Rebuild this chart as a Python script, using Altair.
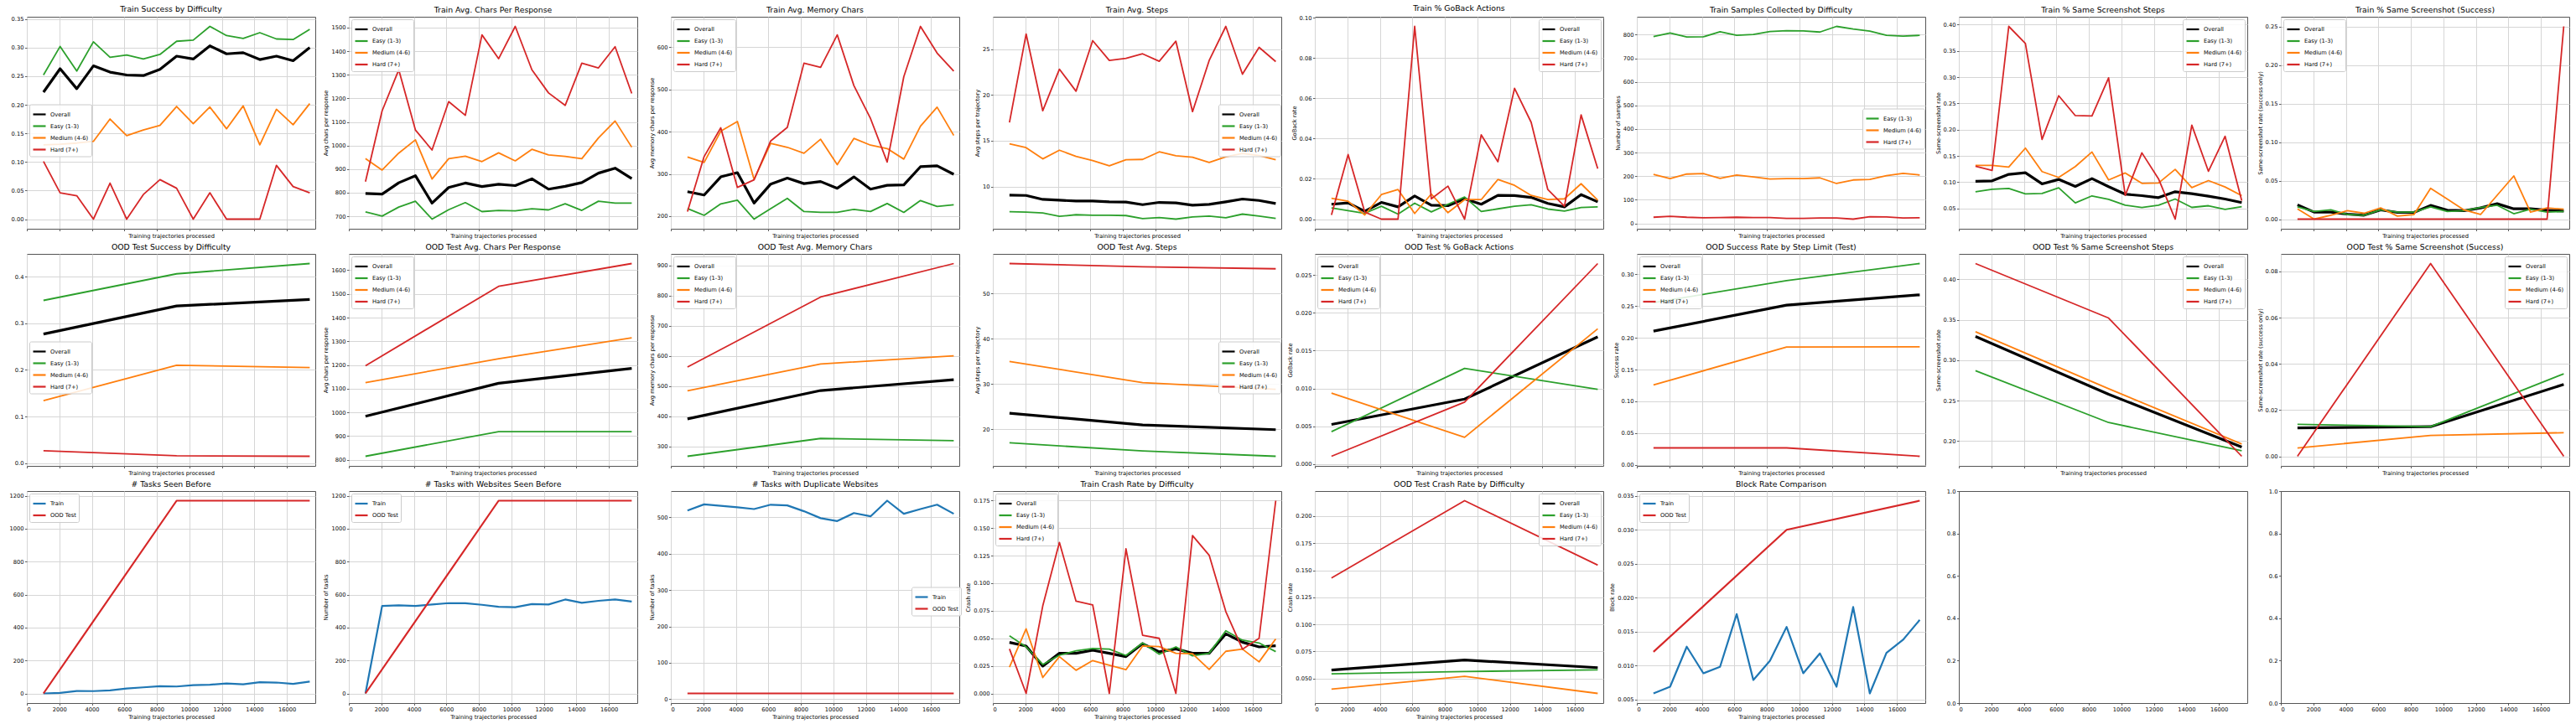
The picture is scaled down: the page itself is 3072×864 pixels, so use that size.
import altair as alt
import pandas as pd

# ---------------- data ----------------
X_TRAIN = [1024, 2048, 3072, 4096, 5120, 6144, 7168, 8192, 9216, 10240, 11264, 12288, 13312, 14336, 15360, 16384, 17408]
X_OOD = [1024, 9216, 17408]
X_TICKS = [0, 2000, 4000, 6000, 8000, 10000, 12000, 14000, 16000]
X_DOMAIN = [0, 17750]

DIFF = ["Overall", "Easy (1-3)", "Medium (4-6)", "Hard (7+)"]
DIFF_COLORS = ["#000000", "#2ca02c", "#ff7f0e", "#d62728"]
DIFF_WIDTHS = [3.2, 1.8, 1.8, 1.8]
SPLIT = ["Train", "OOD Test"]
SPLIT_COLORS = ["#1f77b4", "#d62728"]
SPLIT_WIDTHS = [2.2, 2.2]

train_success_overall = [0.222, 0.263, 0.228, 0.268, 0.257, 0.252, 0.251, 0.262, 0.285, 0.280, 0.303, 0.289, 0.291, 0.279, 0.285, 0.277, 0.300]
train_success_easy = [0.252, 0.302, 0.259, 0.310, 0.283, 0.287, 0.280, 0.288, 0.311, 0.313, 0.337, 0.321, 0.316, 0.326, 0.315, 0.314, 0.332]
train_success_medium = [0.130, 0.131, 0.133, 0.136, 0.175, 0.146, 0.156, 0.164, 0.197, 0.167, 0.196, 0.158, 0.198, 0.130, 0.192, 0.165, 0.202]
train_success_hard = [0.101, 0.046, 0.041, 0.0, 0.063, 0.0, 0.043, 0.069, 0.054, 0.0, 0.046, 0.0, 0.0, 0.0, 0.094, 0.057, 0.046]

train_chars_overall = [797, 794, 842, 872, 756, 822, 841, 826, 836, 830, 859, 815, 827, 843, 883, 904, 860]
train_chars_easy = [719, 701, 739, 764, 688, 728, 758, 720, 725, 723, 732, 727, 753, 725, 764, 756, 756]
train_chars_medium = [945, 896, 968, 1024, 858, 944, 955, 932, 969, 935, 984, 960, 954, 944, 1032, 1104, 993]
train_chars_hard = [847, 1147, 1321, 1066, 981, 1186, 1128, 1469, 1368, 1505, 1321, 1223, 1170, 1349, 1329, 1419, 1221]

train_mem_overall = [258, 250, 293, 303, 231, 276, 290, 277, 282, 266, 293, 264, 273, 274, 317, 319, 299]
train_mem_easy = [218, 202, 229, 238, 193, 218, 242, 211, 209, 209, 216, 211, 230, 209, 237, 223, 227]
train_mem_medium = [340, 327, 401, 424, 287, 372, 363, 349, 382, 322, 384, 368, 360, 335, 413, 458, 391]
train_mem_hard = [211, 341, 409, 268, 286, 378, 410, 562, 552, 629, 509, 431, 328, 530, 649, 586, 543]

train_steps_overall = [9.05, 9.02, 8.59, 8.50, 8.41, 8.41, 8.32, 8.29, 8.01, 8.26, 8.20, 7.95, 8.04, 8.32, 8.63, 8.47, 8.14]
train_steps_easy = [7.25, 7.19, 7.10, 6.73, 6.91, 6.85, 6.85, 6.82, 6.49, 6.61, 6.43, 6.67, 6.76, 6.58, 6.98, 6.76, 6.52]
train_steps_medium = [14.67, 14.25, 13.02, 13.97, 13.30, 12.84, 12.26, 12.93, 12.96, 13.79, 13.36, 13.21, 12.63, 13.24, 13.61, 13.39, 12.93]
train_steps_hard = [17.0, 26.68, 18.28, 22.83, 20.42, 25.95, 23.78, 24.02, 24.51, 23.69, 25.89, 18.19, 23.78, 27.51, 22.28, 25.22, 23.66]

train_goback_overall = [0.0074, 0.0081, 0.0039, 0.0083, 0.0061, 0.0115, 0.0069, 0.0067, 0.0101, 0.0074, 0.0118, 0.0117, 0.0108, 0.0078, 0.0061, 0.0122, 0.0086]
train_goback_easy = [0.0056, 0.0042, 0.0029, 0.0064, 0.0025, 0.0079, 0.0036, 0.0074, 0.0110, 0.0038, 0.0051, 0.0064, 0.0071, 0.0050, 0.0040, 0.0058, 0.0061]
train_goback_medium = [0.0104, 0.0089, 0.0021, 0.0122, 0.0147, 0.0028, 0.0125, 0.0032, 0.0097, 0.0097, 0.0197, 0.0168, 0.0118, 0.0097, 0.0101, 0.0176, 0.0094]
train_goback_hard = [0.0021, 0.0321, 0.0035, 0.0, 0.0, 0.0958, 0.0101, 0.0164, 0.0, 0.0419, 0.0285, 0.0650, 0.0481, 0.0147, 0.0064, 0.0518, 0.0251]

train_samples_easy = [792, 807, 790, 791, 812, 797, 801, 813, 817, 816, 811, 835, 824, 815, 797, 794, 797]
train_samples_medium = [208, 190, 209, 211, 191, 205, 197, 188, 190, 190, 193, 169, 184, 186, 202, 212, 205]
train_samples_hard = [26, 30, 26, 24, 25, 26, 25, 25, 21, 21, 23, 23, 18, 28, 27, 23, 24]

train_same_overall = [0.1017, 0.1027, 0.1150, 0.1182, 0.0969, 0.1054, 0.0921, 0.1070, 0.0915, 0.0772, 0.0745, 0.0708, 0.0819, 0.0782, 0.0734, 0.0681, 0.0612]
train_same_easy = [0.0819, 0.0867, 0.0883, 0.0777, 0.0788, 0.0894, 0.0606, 0.0740, 0.0676, 0.0564, 0.0521, 0.0564, 0.0681, 0.0521, 0.0553, 0.0484, 0.0537]
train_same_medium = [0.1320, 0.1320, 0.1288, 0.1650, 0.1203, 0.1091, 0.1299, 0.1576, 0.1043, 0.1176, 0.0979, 0.0985, 0.1245, 0.0899, 0.1032, 0.0910, 0.0745]
train_same_hard = [0.1304, 0.1224, 0.3966, 0.3642, 0.1815, 0.2646, 0.2268, 0.2263, 0.2987, 0.0750, 0.1560, 0.1064, 0.0298, 0.2087, 0.1208, 0.1874, 0.0649]

train_samesucc_overall = [0.0185, 0.0091, 0.0091, 0.0065, 0.0051, 0.0120, 0.0087, 0.0087, 0.0178, 0.0116, 0.0109, 0.0145, 0.0200, 0.0134, 0.0134, 0.0116, 0.0105]
train_samesucc_easy = [0.016, 0.010, 0.012, 0.006, 0.005, 0.012, 0.009, 0.009, 0.016, 0.010, 0.011, 0.015, 0.018, 0.007, 0.013, 0.009, 0.010]
train_samesucc_medium = [0.0134, 0.0, 0.005, 0.011, 0.0076, 0.0145, 0.004, 0.006, 0.040, 0.026, 0.012, 0.006, 0.031, 0.056, 0.009, 0.0145, 0.013]
train_samesucc_hard = [0.0, 0.0, 0.0, 0.0, 0.0, 0.0, 0.0, 0.0, 0.0, 0.0, 0.0, 0.0, 0.0, 0.0, 0.0, 0.0, 0.25]

ood_success = {"Overall": [0.277, 0.337, 0.351], "Easy (1-3)": [0.349, 0.406, 0.428],
               "Medium (4-6)": [0.134, 0.210, 0.205], "Hard (7+)": [0.027, 0.016, 0.015]}
ood_chars = {"Overall": [984, 1123, 1186], "Easy (1-3)": [815, 919, 919],
             "Medium (4-6)": [1126, 1226, 1315], "Hard (7+)": [1197, 1532, 1628]}
ood_mem = {"Overall": [391, 485, 521], "Easy (1-3)": [267, 326, 319],
           "Medium (4-6)": [484, 573, 600], "Hard (7+)": [563, 795, 906]}
ood_steps = {"Overall": [23.52, 20.93, 19.88], "Easy (1-3)": [16.97, 15.18, 14.0],
             "Medium (4-6)": [34.97, 30.27, 28.78], "Hard (7+)": [56.6, 55.87, 55.44]}
ood_goback = {"Overall": [0.00524, 0.00859, 0.01681], "Easy (1-3)": [0.00428, 0.01265, 0.00988],
              "Medium (4-6)": [0.00937, 0.00354, 0.01788], "Hard (7+)": [0.00103, 0.00819, 0.02651]}
ood_steplimit = {"Overall": [0.2105, 0.2513, 0.2676], "Easy (1-3)": [0.2553, 0.2900, 0.3168],
                 "Medium (4-6)": [0.1257, 0.1854, 0.1859], "Hard (7+)": [0.0268, 0.0268, 0.0136]}
ood_same = {"Overall": [0.3294, 0.2578, 0.1924], "Easy (1-3)": [0.2869, 0.2228, 0.1879],
            "Medium (4-6)": [0.3353, 0.2647, 0.1962], "Hard (7+)": [0.4197, 0.3522, 0.1810]}
ood_samesucc = {"Overall": [0.0123, 0.0128, 0.0311], "Easy (1-3)": [0.0138, 0.0128, 0.0357],
                "Medium (4-6)": [0.0036, 0.0090, 0.0102], "Hard (7+)": [0.0, 0.0834, 0.0]}

tasks_seen_train = [0, 3, 15, 14, 18, 30, 37, 44, 42, 50, 53, 60, 55, 68, 66, 58, 72]
tasks_seen_ood = [0, 1170, 1170]
web_seen_train = [0, 531, 535, 531, 540, 548, 547, 538, 526, 523, 542, 540, 570, 550, 562, 570, 558]
web_seen_ood = [0, 1170, 1170]
dup_web_train = [518, 535, 531, 527, 522, 534, 532, 516, 497, 489, 511, 502, 545, 509, 522, 534, 509]
dup_web_ood = [16, 16, 16]

crash_train_overall = [0.0463, 0.0430, 0.0248, 0.0364, 0.0364, 0.0392, 0.0364, 0.0334, 0.0452, 0.0377, 0.0404, 0.0364, 0.0364, 0.0541, 0.0465, 0.0422, 0.0432]
crash_train_easy = [0.0523, 0.0422, 0.0263, 0.0346, 0.0387, 0.0407, 0.0402, 0.0344, 0.0458, 0.0356, 0.0422, 0.0341, 0.0364, 0.0569, 0.0483, 0.0458, 0.0379]
crash_train_medium = [0.0238, 0.0586, 0.0144, 0.0334, 0.0210, 0.0298, 0.0255, 0.0215, 0.0430, 0.0425, 0.0364, 0.0361, 0.0217, 0.0382, 0.0402, 0.0286, 0.0495]
crash_train_hard = [0.0404, 0.0, 0.0794, 0.1370, 0.0837, 0.0804, 0.0, 0.1312, 0.0528, 0.0500, 0.0, 0.1433, 0.1254, 0.0743, 0.0402, 0.0500, 0.1749]
crash_ood = {"Overall": [0.0578, 0.0671, 0.0601], "Easy (1-3)": [0.0544, 0.0565, 0.0580],
             "Medium (4-6)": [0.0402, 0.0521, 0.0363], "Hard (7+)": [0.1428, 0.2142, 0.1547]}

block_train = [0.00587, 0.00686, 0.01276, 0.00884, 0.00979, 0.01758, 0.00785, 0.01069, 0.01568, 0.00884, 0.01177, 0.00686, 0.01861, 0.00587, 0.01185, 0.01379, 0.01672]
block_ood = [0.0120, 0.0300, 0.0343]

# ---------------- layout / style ----------------
W, H = 344, 253
FONT = "DejaVu Sans"
XTITLE = "Training trajectories processed"


def rows_from(series):
    """series: list of (name, xs, ys, width)"""
    out = []
    for name, xs, ys, w in series:
        for x, y in zip(xs, ys):
            out.append({"x": x, "y": y, "s": name, "w": w})
    return pd.DataFrame(out)


def diff_series(xs, vals, names=DIFF):
    return [(n, xs, v, DIFF_WIDTHS[DIFF.index(n)]) for n, v in zip(names, vals)]


def make_legend(pos, n, lw):
    h = n * 10 + 4
    common = dict(title=None)
    if pos == "ul":
        return alt.Legend(orient="top-left", offset=3, **common)
    if pos == "ur":
        return alt.Legend(orient="top-right", offset=3, **common)
    if pos == "cl":
        return alt.Legend(orient="none", legendX=3, legendY=(H - h) / 2, **common)
    return alt.Legend(orient="none", legendX=W - 3 - lw, legendY=(H - h) / 2, **common)


def panel(title, df, names, colors, yticks, yfmt, ytitle, lpos, bottom, lw=72):
    lo, hi = float(df["y"].min()), float(df["y"].max())
    m = (hi - lo) * 0.05
    xaxis = alt.Axis(values=X_TICKS, format="d", labels=bottom, title=XTITLE, grid=True)
    if ytitle:
        yaxis = alt.Axis(values=yticks, format=yfmt, title=ytitle, grid=True)
    else:
        yaxis = alt.Axis(values=yticks, format=yfmt, title=None, grid=True)
    return alt.Chart(df).mark_line(strokeJoin="round").encode(
        x=alt.X("x:Q", scale=alt.Scale(domain=X_DOMAIN, nice=False, zero=False), axis=xaxis),
        y=alt.Y("y:Q", scale=alt.Scale(domain=[lo - m, hi + m], nice=False, zero=False), axis=yaxis),
        color=alt.Color("s:N", scale=alt.Scale(domain=names, range=colors),
                        legend=make_legend(lpos, len(names), lw)),
        strokeWidth=alt.StrokeWidth("w:Q", scale=None, legend=None),
    ).properties(title=title, width=W, height=H)


def empty_panel():
    df = pd.DataFrame({"x": [0], "y": [0]})
    return alt.Chart(df).mark_point(opacity=0).encode(
        x=alt.X("x:Q", scale=alt.Scale(domain=X_DOMAIN, nice=False, zero=False),
                axis=alt.Axis(values=X_TICKS, format="d", grid=False, title=None)),
        y=alt.Y("y:Q", scale=alt.Scale(domain=[0, 1], nice=False, zero=False),
                axis=alt.Axis(values=[0.0, 0.2, 0.4, 0.6, 0.8, 1.0], format=".1f", grid=False, title=None)),
    ).properties(width=W, height=H)


panels = []
# Row 1 (train)
panels.append(panel("Train Success by Difficulty",
                    rows_from(diff_series(X_TRAIN, [train_success_overall, train_success_easy, train_success_medium, train_success_hard])),
                    DIFF, DIFF_COLORS, [0.0, 0.05, 0.10, 0.15, 0.20, 0.25, 0.30, 0.35], ".2f", None, "cl", False))
panels.append(panel("Train Avg. Chars Per Response",
                    rows_from(diff_series(X_TRAIN, [train_chars_overall, train_chars_easy, train_chars_medium, train_chars_hard])),
                    DIFF, DIFF_COLORS, [700, 800, 900, 1000, 1100, 1200, 1300, 1400, 1500], "d", "Avg chars per response", "ul", False))
panels.append(panel("Train Avg. Memory Chars",
                    rows_from(diff_series(X_TRAIN, [train_mem_overall, train_mem_easy, train_mem_medium, train_mem_hard])),
                    DIFF, DIFF_COLORS, [200, 300, 400, 500, 600], "d", "Avg memory chars per response", "ul", False))
panels.append(panel("Train Avg. Steps",
                    rows_from(diff_series(X_TRAIN, [train_steps_overall, train_steps_easy, train_steps_medium, train_steps_hard])),
                    DIFF, DIFF_COLORS, [10, 15, 20, 25], "d", "Avg steps per trajectory", "cr", False))
panels.append(panel("Train % GoBack Actions",
                    rows_from(diff_series(X_TRAIN, [train_goback_overall, train_goback_easy, train_goback_medium, train_goback_hard])),
                    DIFF, DIFF_COLORS, [0.0, 0.02, 0.04, 0.06, 0.08, 0.10], ".2f", "GoBack rate", "ur", False))
panels.append(panel("Train Samples Collected by Difficulty",
                    rows_from(diff_series(X_TRAIN, [train_samples_easy, train_samples_medium, train_samples_hard], DIFF[1:])),
                    DIFF[1:], DIFF_COLORS[1:], [0, 100, 200, 300, 400, 500, 600, 700, 800], "d", "Number of samples", "cr", False))
panels.append(panel("Train % Same Screenshot Steps",
                    rows_from(diff_series(X_TRAIN, [train_same_overall, train_same_easy, train_same_medium, train_same_hard])),
                    DIFF, DIFF_COLORS, [0.05, 0.10, 0.15, 0.20, 0.25, 0.30, 0.35, 0.40], ".2f", "Same-screenshot rate", "ur", False))
panels.append(panel("Train % Same Screenshot (Success)",
                    rows_from(diff_series(X_TRAIN, [train_samesucc_overall, train_samesucc_easy, train_samesucc_medium, train_samesucc_hard])),
                    DIFF, DIFF_COLORS, [0.0, 0.05, 0.10, 0.15, 0.20, 0.25], ".2f", "Same-screenshot rate (success only)", "ul", False))

# Row 2 (OOD test)
def ood_df(d):
    return rows_from(diff_series(X_OOD, [d[n] for n in DIFF]))

panels.append(panel("OOD Test Success by Difficulty", ood_df(ood_success), DIFF, DIFF_COLORS,
                    [0.0, 0.1, 0.2, 0.3, 0.4], ".1f", None, "cl", False))
panels.append(panel("OOD Test Avg. Chars Per Response", ood_df(ood_chars), DIFF, DIFF_COLORS,
                    [800, 900, 1000, 1100, 1200, 1300, 1400, 1500, 1600], "d", "Avg chars per response", "ul", False))
panels.append(panel("OOD Test Avg. Memory Chars", ood_df(ood_mem), DIFF, DIFF_COLORS,
                    [300, 400, 500, 600, 700, 800, 900], "d", "Avg memory chars per response", "ul", False))
panels.append(panel("OOD Test Avg. Steps", ood_df(ood_steps), DIFF, DIFF_COLORS,
                    [20, 30, 40, 50], "d", "Avg steps per trajectory", "cr", False))
panels.append(panel("OOD Test % GoBack Actions", ood_df(ood_goback), DIFF, DIFF_COLORS,
                    [0.0, 0.005, 0.010, 0.015, 0.020, 0.025], ".3f", "GoBack rate", "ul", False))
panels.append(panel("OOD Success Rate by Step Limit (Test)", ood_df(ood_steplimit), DIFF, DIFF_COLORS,
                    [0.0, 0.05, 0.10, 0.15, 0.20, 0.25, 0.30], ".2f", "Success rate", "ul", False))
panels.append(panel("OOD Test % Same Screenshot Steps", ood_df(ood_same), DIFF, DIFF_COLORS,
                    [0.20, 0.25, 0.30, 0.35, 0.40], ".2f", "Same-screenshot rate", "ur", False))
panels.append(panel("OOD Test % Same Screenshot (Success)", ood_df(ood_samesucc), DIFF, DIFF_COLORS,
                    [0.0, 0.02, 0.04, 0.06, 0.08], ".2f", "Same-screenshot rate (success only)", "ur", False))

# Row 3
def split_df(train, ood):
    return rows_from([("Train", X_TRAIN, train, SPLIT_WIDTHS[0]), ("OOD Test", X_OOD, ood, SPLIT_WIDTHS[1])])

panels.append(panel("# Tasks Seen Before", split_df(tasks_seen_train, tasks_seen_ood), SPLIT, SPLIT_COLORS,
                    [0, 200, 400, 600, 800, 1000, 1200], "d", None, "ul", True, lw=54))
panels.append(panel("# Tasks with Websites Seen Before", split_df(web_seen_train, web_seen_ood), SPLIT, SPLIT_COLORS,
                    [0, 200, 400, 600, 800, 1000, 1200], "d", "Number of tasks", "ul", True, lw=54))
panels.append(panel("# Tasks with Duplicate Websites", split_df(dup_web_train, dup_web_ood), SPLIT, SPLIT_COLORS,
                    [0, 100, 200, 300, 400, 500], "d", "Number of tasks", "cr", True, lw=54))
panels.append(panel("Train Crash Rate by Difficulty",
                    rows_from(diff_series(X_TRAIN, [crash_train_overall, crash_train_easy, crash_train_medium, crash_train_hard])),
                    DIFF, DIFF_COLORS, [0.0, 0.025, 0.050, 0.075, 0.100, 0.125, 0.150, 0.175], ".3f", "Crash rate", "ul", True))
panels.append(panel("OOD Test Crash Rate by Difficulty", ood_df(crash_ood), DIFF, DIFF_COLORS,
                    [0.050, 0.075, 0.100, 0.125, 0.150, 0.175, 0.200], ".3f", "Crash rate", "ur", True))
panels.append(panel("Block Rate Comparison", split_df(block_train, block_ood), SPLIT, SPLIT_COLORS,
                    [0.005, 0.010, 0.015, 0.020, 0.025, 0.030, 0.035], ".3f", "Block rate", "ul", True, lw=54))
panels.append(empty_panel())
panels.append(empty_panel())

chart = alt.concat(*panels, columns=8, spacing=alt.RowColnumber(row=30, column=40)).properties(
    bounds="flush",
    padding={"left": 10, "top": 5, "right": 5, "bottom": 4},
).resolve_scale(
    x="independent", y="independent", color="independent"
).resolve_legend(
    color="independent"
).configure_view(
    stroke="#555555", strokeWidth=1
).configure_axis(
    domain=False, grid=True, gridColor="#d6d6d6", gridWidth=1,
    tickColor="#333333", tickSize=2.5, tickWidth=0.8,
    labelFont=FONT, labelFontSize=6.7, labelColor="#000000", labelPadding=1.5,
    titleFont=FONT, titleFontSize=6.7, titleFontWeight="normal", titleColor="#000000", titlePadding=3,
).configure_title(
    font=FONT, fontSize=9.3, fontWeight="normal", color="#000000", offset=3, anchor="middle"
).configure_legend(
    labelFont=FONT, labelFontSize=6.7, labelColor="#000000", symbolType="stroke",
    symbolSize=225, symbolStrokeWidth=2.2, padding=3, rowPadding=0, labelOffset=4,
    strokeColor="#cccccc", fillColor="rgba(255,255,255,0.85)", cornerRadius=2,
)

chart.save("out.html", embed_options={"renderer": "svg", "actions": False})
